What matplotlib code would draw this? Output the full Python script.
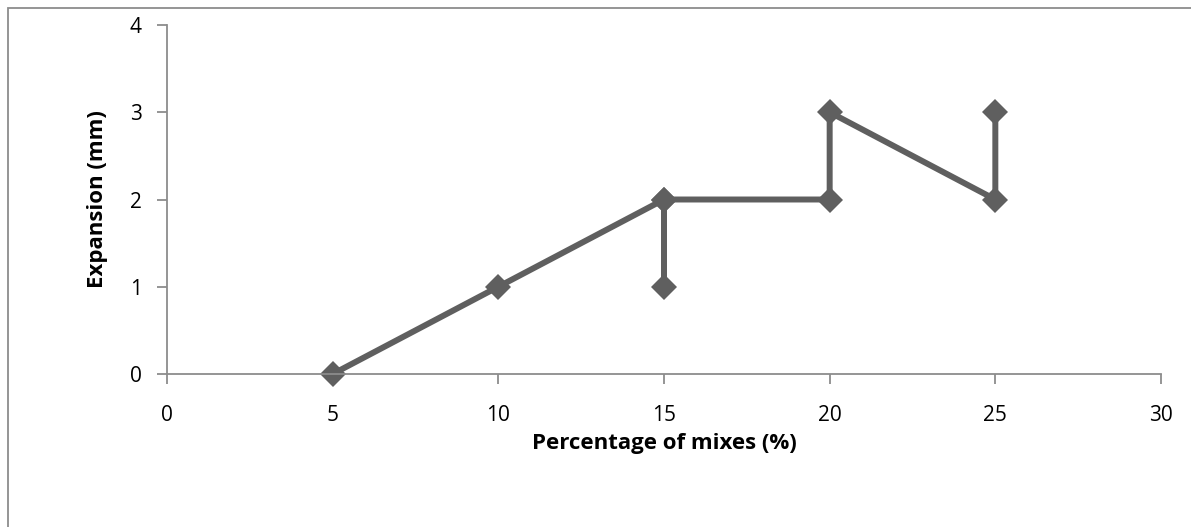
import matplotlib
matplotlib.use("Agg")
import matplotlib.pyplot as plt
from matplotlib.patches import Rectangle

x_pct = [5, 10, 15, 15, 15, 20, 20, 25, 25]
expansion = [0, 1, 2, 1, 2, 2, 3, 2, 3]
x_ticks = [0, 5, 10, 15, 20, 25, 30]
y_ticks = [0, 1, 2, 3, 4]

plt.rcParams['font.family'] = ['Open Sans', 'DejaVu Sans']

fig = plt.figure(figsize=(11.91, 5.27), dpi=100)
W, H = 1191, 527
x0, x1 = 167, 1161
y0, y1 = 374, 25
ax = fig.add_axes([x0 / W, 1 - y0 / H, (x1 - x0) / W, (y0 - y1) / H])

ax.plot(x_pct, expansion, color='#5f5f5f', linewidth=4.3, marker='D',
        markersize=13, markeredgewidth=0, solid_joinstyle='miter', clip_on=False)

ax.set_xlim(0, 30)
ax.set_ylim(0, 4)
ax.set_xticks(x_ticks)
ax.set_yticks(y_ticks)
for s in ['top', 'right']:
    ax.spines[s].set_visible(False)
for s in ['left', 'bottom']:
    ax.spines[s].set_color('#8c8c8c')
    ax.spines[s].set_linewidth(1.3)
ax.tick_params(axis='both', color='#8c8c8c', width=1.3, length=7,
               labelsize=15, labelcolor='black')
ax.tick_params(axis='x', pad=15)
ax.tick_params(axis='y', pad=11)

ax.set_xlabel('Percentage of mixes (%)', fontsize=16, fontweight='bold', labelpad=5)
ax.set_ylabel('Expansion (mm)', fontsize=16, fontweight='bold', labelpad=16)

fig.patches.append(Rectangle((8 / W, -0.1), 1.2, 1 - 8 / H + 0.1,
                             transform=fig.transFigure, fill=False,
                             edgecolor='#8c8c8c', linewidth=1.3))

fig.savefig('out.png', dpi=100)
